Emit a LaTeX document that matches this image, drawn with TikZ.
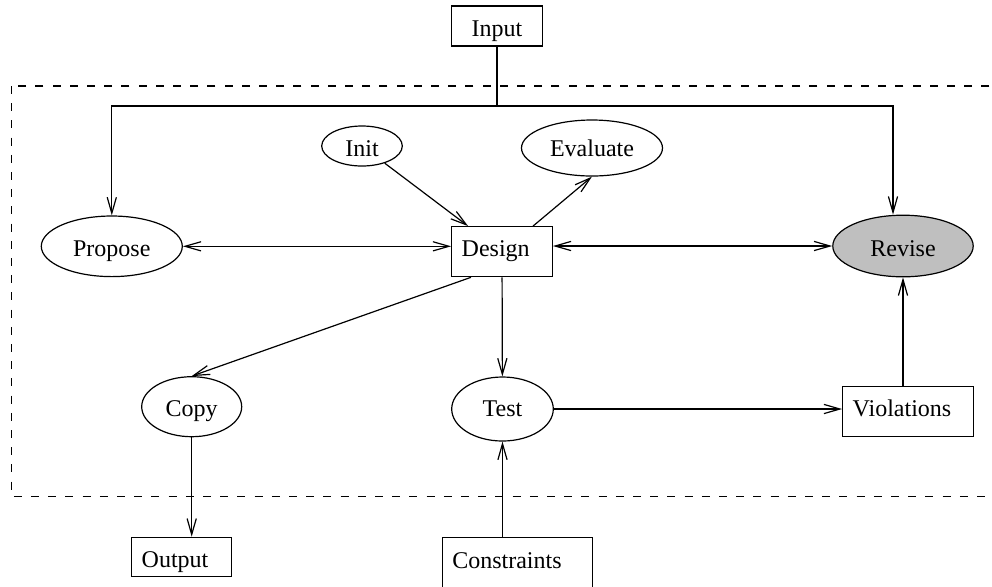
\documentclass[tikz,border=0pt]{standalone}
\usepackage{fontspec}
\setmainfont{Liberation Serif}
\usetikzlibrary{arrows.meta,shapes.geometric}

\begin{document}
\begin{tikzpicture}[x=0.5pt,y=-0.5pt,line width=0.6pt,
  >={Straight Barb[length=8pt,width=4.6pt]},
  font=\fontsize{12}{14}\selectfont,
  box/.style={draw,rectangle,inner sep=0pt,text height=10pt,text depth=0pt},
  lbox/.style={draw,rectangle,align=left,inner xsep=5pt,inner ysep=0pt,text height=10pt,text depth=0pt},
  oval/.style={draw,ellipse,inner sep=0pt,text height=10pt,text depth=0pt}]
\useasboundingbox (0,0) rectangle (992,586);
% dashed frame round the design process
\draw[dash pattern=on 4pt off 4.6pt] (11.7,86) rectangle (1010,496.7);
\node[box,minimum width=45.3pt,minimum height=20pt] (input) at (497,26) {Input};
\node[oval,minimum width=70.5pt,minimum height=30.3pt] (propose) at (111.8,246.3) {Propose};
\node[oval,minimum width=40.3pt,minimum height=20pt] (init) at (362,146) {Init};
\node[oval,minimum width=70.5pt,minimum height=28pt,text height=8pt] (evaluate) at (592,148) {Evaluate};
\node[lbox,text width=40.3pt,minimum height=25pt,text height=5pt] (design) at (502,251.7) {Design};
\node[oval,minimum width=70.2pt,minimum height=30.8pt,fill=gray!50] (revise) at (903,246) {Revise};
\node[oval,minimum width=50pt,minimum height=30pt] (copy) at (191.7,406.7) {Copy};
\node[oval,minimum width=50.8pt,minimum height=32pt,text height=7.7pt] (test) at (502.5,409) {Test};
\node[lbox,text width=55.3pt,minimum height=25pt,text height=5pt] (violations) at (908,411.7) {Violations};
\node[lbox,text width=40pt,minimum height=19.7pt] (output) at (181.7,557) {Output};
\node[lbox,text width=65.2pt,text height=15.5pt,text depth=12pt,anchor=north] (constraints) at (517.5,537) {Constraints};
\coordinate (j) at (497,106);
\draw (input) -- (j);
\draw[->] (j) -| (propose.north);
\draw[->] (j) -| ([xshift=-5pt]revise.north);
\draw[<->] (propose) -- (propose -| design.west);
\draw[<->] (revise) -- (revise -| design.east);
\draw[->] (init) -- (design);
\draw[->] ([xshift=15.5pt]design.north) -- (evaluate.south);
\draw[->] ([xshift=-15.5pt]design.south) -- (copy.north);
\draw[->] (design) -- (test);
\draw[->] (test) -- (test -| violations.west);
\draw[->] (revise.south |- violations.north) -- (revise.south);
\draw[->] (copy) -- (copy |- output.north);
\draw[->] (test |- constraints.north) -- (test);
\end{tikzpicture}
\end{document}
